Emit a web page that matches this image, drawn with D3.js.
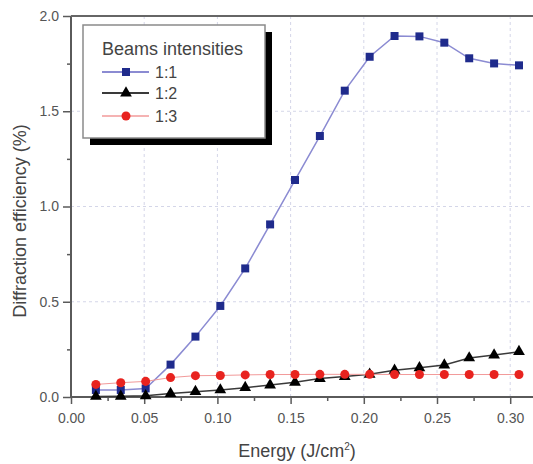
<!DOCTYPE html>
<html><head><meta charset="utf-8">
<script src="https://cdn.jsdelivr.net/npm/d3@7"></script>
<style>html,body{margin:0;padding:0;background:#fff;overflow:hidden}</style>
</head><body>
<svg id="c" width="533" height="464"></svg>
<script>
const energy = [0.017,0.034,0.051,0.068,0.085,0.102,0.119,0.136,0.153,0.170,0.187,0.204,0.221,0.238,0.255,0.272,0.289,0.306];
const s11 = [0.037,0.037,0.045,0.170,0.317,0.478,0.675,0.906,1.139,1.370,1.608,1.786,1.895,1.893,1.860,1.778,1.751,1.741];
const s12 = [0.003,0.004,0.006,0.018,0.028,0.037,0.049,0.063,0.077,0.097,0.107,0.119,0.140,0.153,0.168,0.205,0.220,0.238];
const s13 = [0.066,0.075,0.082,0.102,0.112,0.113,0.116,0.118,0.118,0.119,0.119,0.119,0.118,0.118,0.118,0.118,0.118,0.118];
const seriesNames = ["1:1","1:2","1:3"];
const xTicks = [0,0.05,0.10,0.15,0.20,0.25,0.30];
const yTicks = [0,0.5,1.0,1.5,2.0];
const legendTitle = "Beams intensities";

const svg = d3.select("#c");
const L = 71, T = 16, B = 397;
const x = d3.scaleLinear().domain([0,0.32]).range([L, L+0.32*1464]);
const y = d3.scaleLinear().domain([0,2]).range([B, T]);
const R = x.range()[1];
const axisCol = "#5a5a5a", txtCol = "#555";
const font = "Liberation Sans, Arial, sans-serif";

// grid
const g = svg.append("g");
g.selectAll("line.vg").data(xTicks.filter(d=>d>0)).join("line")
  .attr("x1",d=>x(d)).attr("x2",d=>x(d)).attr("y1",T).attr("y2",B)
  .attr("stroke","#d4d6e8").attr("stroke-width",1).attr("stroke-dasharray","3,3");
g.selectAll("line.hg").data(yTicks.filter(d=>d>0&&d<2)).join("line")
  .attr("x1",L).attr("x2",R).attr("y1",d=>y(d)).attr("y2",d=>y(d))
  .attr("stroke","#d4d6e8").attr("stroke-width",1).attr("stroke-dasharray","3,3");

// axes
const xMinor = d3.range(0.025,0.32,0.05);
const yMinor = [0.25,0.75,1.25,1.75];
const xa = svg.append("g").attr("transform",`translate(0,${B})`)
  .call(d3.axisBottom(x).tickValues(xTicks).tickFormat(d3.format(".2f")).tickSize(7).tickPadding(9));
const ya = svg.append("g").attr("transform",`translate(${L},0)`)
  .call(d3.axisLeft(y).tickValues(yTicks).tickFormat(d3.format(".1f")).tickSize(8).tickPadding(4));
[xa,ya].forEach(a=>{
  a.select(".domain").remove();
  a.selectAll(".tick line").attr("stroke",axisCol).attr("stroke-width",1.5);
  a.selectAll(".tick text").attr("fill",txtCol).style("font-family",font).style("font-size","14px");
});
svg.append("g").attr("transform",`translate(0,${B})`)
  .call(d3.axisBottom(x).tickValues(xMinor).tickFormat("").tickSize(4))
  .call(a=>{a.select(".domain").remove();a.selectAll("line").attr("stroke",axisCol).attr("stroke-width",1.5);});
svg.append("g").attr("transform",`translate(${L},0)`)
  .call(d3.axisLeft(y).tickValues(yMinor).tickFormat("").tickSize(4))
  .call(a=>{a.select(".domain").remove();a.selectAll("line").attr("stroke",axisCol).attr("stroke-width",1.5);});
svg.append("line").attr("x1",L).attr("x2",R).attr("y1",B).attr("y2",B).attr("stroke",axisCol).attr("stroke-width",2);
svg.append("line").attr("x1",L).attr("x2",L).attr("y1",T).attr("y2",B).attr("stroke",axisCol).attr("stroke-width",2);
svg.append("line").attr("x1",L).attr("x2",R).attr("y1",T).attr("y2",T).attr("stroke","#666").attr("stroke-width",2);

// titles
svg.append("text").attr("x",297).attr("y",457).attr("text-anchor","middle")
  .attr("fill","#444").style("font-family",font).style("font-size","18px")
  .html('Energy (J/cm<tspan dy="-7" font-size="10">2</tspan><tspan dy="7">)</tspan>');
svg.append("text").attr("transform","translate(26,221) rotate(-90)").attr("text-anchor","middle")
  .attr("fill","#444").style("font-family",font).style("font-size","18px")
  .text("Diffraction efficiency (%)");

// series
const series = [
  {name:seriesNames[0], vals:s11, line:"#8b8bd2", lw:1.5, fill:"#1f2b8c", shape:d3.symbolSquare, size:64},
  {name:seriesNames[1], vals:s12, line:"#3a3a3a", lw:1.5, fill:"#000", shape:d3.symbolTriangle, size:60},
  {name:seriesNames[2], vals:s13, line:"#f29a9a", lw:1, fill:"#e8231f", shape:d3.symbolCircle, size:64}
];
const lineGen = d3.line().x((d,i)=>x(energy[i])).y(d=>y(d));
series.forEach(s=>{
  svg.append("path").datum(s.vals).attr("d",lineGen).attr("fill","none")
    .attr("stroke",s.line).attr("stroke-width",s.lw);
  svg.append("g").selectAll("path").data(s.vals).join("path")
    .attr("transform",(d,i)=>`translate(${x(energy[i])},${y(d)})`)
    .attr("d",d3.symbol().type(s.shape).size(s.size)).attr("fill",s.fill);
});

// legend
const lg = svg.append("g");
lg.append("rect").attr("x",90).attr("y",32).attr("width",182).attr("height",113).attr("fill","#000");
lg.append("rect").attr("x",83).attr("y",25).attr("width",182).attr("height",113).attr("fill","#fff")
  .attr("stroke","#8a8a8a").attr("stroke-width",1.5);
lg.append("text").attr("x",102).attr("y",55).attr("fill","#444").style("font-family",font).style("font-size","18px").text(legendTitle);
const ly = [72,93,116];
series.forEach((s,i)=>{
  lg.append("line").attr("x1",102).attr("x2",149).attr("y1",ly[i]).attr("y2",ly[i]).attr("stroke",s.line).attr("stroke-width",s.lw+0.5);
  lg.append("path").attr("transform",`translate(126,${ly[i]})`).attr("d",d3.symbol().type(s.shape).size(s.size)).attr("fill",s.fill);
  lg.append("text").attr("x",155).attr("y",ly[i]).attr("dy","0.36em").attr("fill","#444")
    .style("font-family",font).style("font-size","16px").text(s.name);
});
</script>
</body></html>
